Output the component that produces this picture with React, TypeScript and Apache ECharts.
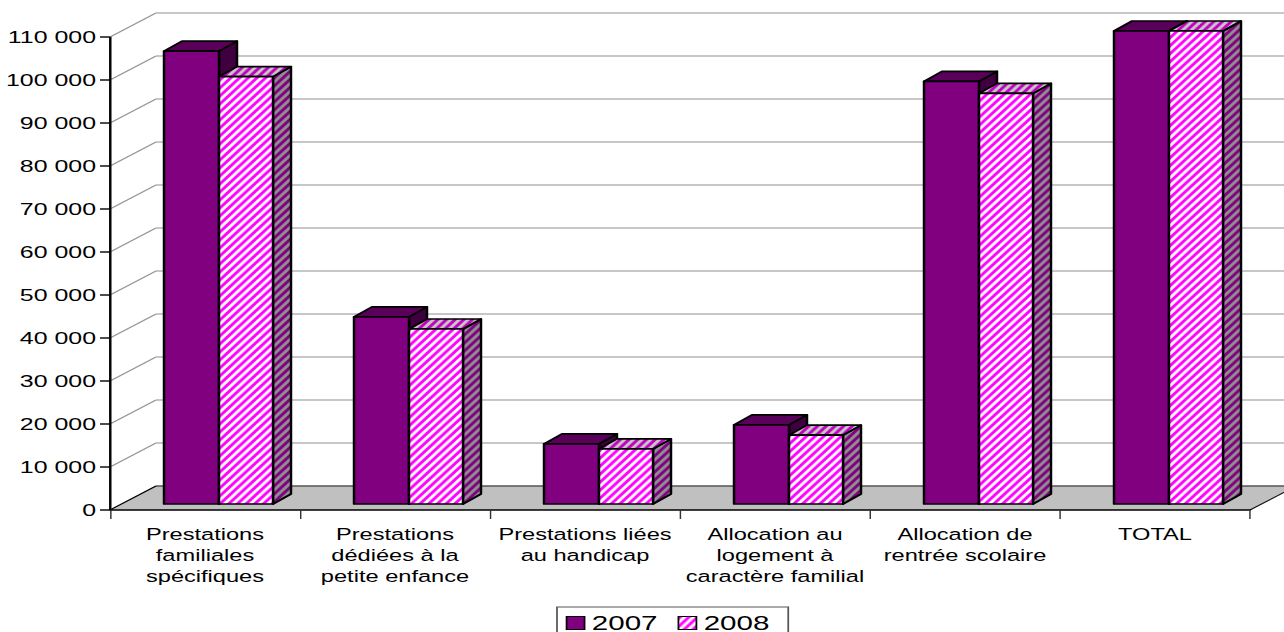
import React, { useEffect, useRef } from "react";
import * as echarts from "echarts";

const categories = [
  "Prestations\nfamiliales\nspécifiques",
  "Prestations\ndédiées à la\npetite enfance",
  "Prestations liées\nau handicap",
  "Allocation au\nlogement à\ncaractère familial",
  "Allocation de\nrentrée scolaire",
  "TOTAL",
];
const values2007 = [105300, 43500, 14000, 18400, 98300, 110000];
const values2008 = [99400, 40700, 12800, 16000, 95500, 110000];
const yTicks = [0, 10000, 20000, 30000, 40000, 50000, 60000, 70000, 80000, 90000, 100000, 110000];

// The reference is stretched horizontally: the chart is laid out narrow and widened.
const W = 886;
const S = 1284 / W;
const X = (px: number) => px / S;
const FONT = "'Liberation Sans', Arial, sans-serif";

function stripes(c1: string, c2: string) {
  const k = 4, w = 6, h = 8;
  const cv = document.createElement("canvas");
  cv.width = w * k;
  cv.height = h * k;
  const ctx = cv.getContext("2d")!;
  for (let y = 0; y < cv.height; y++) {
    for (let x = 0; x < cv.width; x++) {
      const t = (x / cv.width + y / cv.height) % 1;
      ctx.fillStyle = t < 0.5 ? c1 : c2;
      ctx.fillRect(x, y, 1, 1);
    }
  }
  return { image: cv, repeat: "repeat", scaleX: 1 / k, scaleY: 1 / k } as any;
}

export default function App() {
  const ref = useRef<HTMLDivElement>(null);
  useEffect(() => {
    const chart = echarts.init(ref.current!, null, { renderer: "svg" });
    const front = stripes("#ff00ff", "#ffffff");
    const side = stripes("#800080", "#909090");
    const top = stripes("#c000c0", "#c8c8c8");
    const line = { stroke: "#000", lineWidth: 1.7, lineJoin: "round" };
    const wallDX = X(46);
    const wallDY = 24;
    const lift = 6;
    const depthX = X(18);
    const depthY = 10;

    const barSeries = (
      name: string,
      data: number[],
      from: number,
      to: number,
      fFront: any,
      fTop: any,
      fSide: any
    ) => ({
      type: "custom",
      name,
      silent: true,
      clip: false,
      z: 5,
      data: data.map((v, i) => [i, v]),
      encode: { x: 0, y: 1 },
      renderItem: (_p: any, api: any) => {
        const i = api.value(0);
        const base = api.coord([i, 0]);
        const head = api.coord([i, api.value(1)]);
        const band = api.size([1, 0])[0];
        const x0 = base[0] + band * from;
        const x1 = base[0] + band * to;
        const y0 = base[1] - lift;
        const y1 = head[1] - lift;
        return {
          type: "group",
          children: [
            {
              type: "polygon",
              shape: { points: [[x1, y0], [x1 + depthX, y0 - depthY], [x1 + depthX, y1 - depthY], [x1, y1]] },
              style: { fill: fSide, ...line },
            },
            {
              type: "polygon",
              shape: { points: [[x0, y1], [x0 + depthX, y1 - depthY], [x1 + depthX, y1 - depthY], [x1, y1]] },
              style: { fill: fTop, ...line },
            },
            {
              type: "polygon",
              shape: { points: [[x0, y0], [x1, y0], [x1, y1], [x0, y1]] },
              style: { fill: fFront, ...line },
            },
          ],
        };
      },
    });

    chart.setOption({
      animation: false,
      backgroundColor: "#fff",
      grid: { left: X(110), top: 37, width: X(1140), height: 473 },
      legend: {
        left: X(557),
        top: 607,
        orient: "horizontal",
        padding: [6, 13, 12, 6],
        borderColor: "#555",
        borderWidth: 1.2,
        backgroundColor: "#fff",
        itemWidth: X(18),
        itemHeight: 13,
        itemGap: X(20),
        textStyle: { fontFamily: FONT, fontSize: 20.4, color: "#000" },
        data: [
          { name: "2007", icon: "rect", itemStyle: { color: "#800080", borderColor: "#000", borderWidth: 1.2 } },
          { name: "2008", icon: "rect", itemStyle: { color: front, borderColor: "#000", borderWidth: 1.2 } },
        ],
      },
      xAxis: {
        type: "category",
        data: categories,
        axisLine: { show: true, onZero: true, lineStyle: { color: "#000", width: 1.5 } },
        axisTick: { show: true, length: 9, lineStyle: { color: "#333", width: 1 } },
        axisLabel: {
          interval: 0,
          margin: 14,
          fontFamily: FONT,
          fontSize: 16.3,
          lineHeight: 21,
          color: "#000",
          verticalAlign: "top",
        },
      },
      yAxis: {
        type: "value",
        min: 0,
        max: 110000,
        interval: 10000,
        splitLine: { show: false },
        axisLine: { show: true, onZero: false, lineStyle: { color: "#222", width: 1 } },
        axisTick: { show: true, length: X(10), lineStyle: { color: "#111", width: 1.5 } },
        axisLabel: {
          margin: X(14),
          fontFamily: FONT,
          fontSize: 17.2,
          color: "#000",
          padding: [4, 0, 0, 0],
          formatter: (v: number) => String(v).replace(/\B(?=(\d{3})+$)/g, " "),
        },
      },
      series: [
        {
          type: "custom",
          silent: true,
          clip: false,
          z: -1,
          data: yTicks.map((v) => [0, v]),
          encode: { x: 0, y: 1 },
          renderItem: (p: any, api: any) => {
            const y = api.coord([0, api.value(1)])[1];
            const xl = p.coordSys.x;
            const xr = xl + p.coordSys.width;
            if (api.value(1) === 0) {
              return {
                type: "group",
                children: [
                  {
                    type: "polygon",
                    shape: { points: [[xl, y], [xl + wallDX, y - wallDY], [xr + wallDX, y - wallDY], [xr, y]] },
                    style: { fill: "#c0c0c0", stroke: "none" },
                  },
                  {
                    type: "line",
                    shape: { x1: xl + wallDX, y1: y - wallDY, x2: xr + wallDX, y2: y - wallDY },
                    style: { stroke: "#555", lineWidth: 1.5 },
                  },
                  {
                    type: "line",
                    shape: { x1: xl, y1: y, x2: xl + wallDX, y2: y - wallDY },
                    style: { stroke: "#000", lineWidth: 1 },
                  },
                  {
                    type: "line",
                    shape: { x1: xr, y1: y, x2: xr + wallDX, y2: y - wallDY },
                    style: { stroke: "#111", lineWidth: 1 },
                  },
                ],
              };
            }
            return {
              type: "group",
              children: [
                {
                  type: "line",
                  shape: { x1: xl, y1: y, x2: xl + wallDX, y2: y - wallDY },
                  style: { stroke: "#999", lineWidth: 1 },
                },
                {
                  type: "line",
                  shape: { x1: xl + wallDX, y1: y - wallDY, x2: xr + wallDX, y2: y - wallDY },
                  style: { stroke: "#b4b4b4", lineWidth: 1.5 },
                },
              ],
            };
          },
        },
        barSeries("2007", values2007, -41 / 190, 14 / 190, "#800080", "#5a005a", "#400040"),
        barSeries("2008", values2008, 14 / 190, 68 / 190, front, top, side),
        {
          type: "custom",
          silent: true,
          clip: false,
          z: 100,
          data: [[0, 0]],
          encode: { x: 0, y: 1 },
          renderItem: (p: any, api: any) => {
            const y = api.coord([0, 0])[1];
            const xl = p.coordSys.x;
            return {
              type: "rect",
              shape: { x: xl - 0.65, y: p.coordSys.y, width: 1.3, height: y - p.coordSys.y },
              style: { fill: "#000" },
            };
          },
        },
      ],
    });
    return () => chart.dispose();
  }, []);
  return (
    <div
      ref={ref}
      style={{
        position: "absolute",
        left: 0,
        top: 0,
        width: W,
        height: 632,
        transform: `scaleX(${S})`,
        transformOrigin: "0 0",
      }}
    />
  );
}
